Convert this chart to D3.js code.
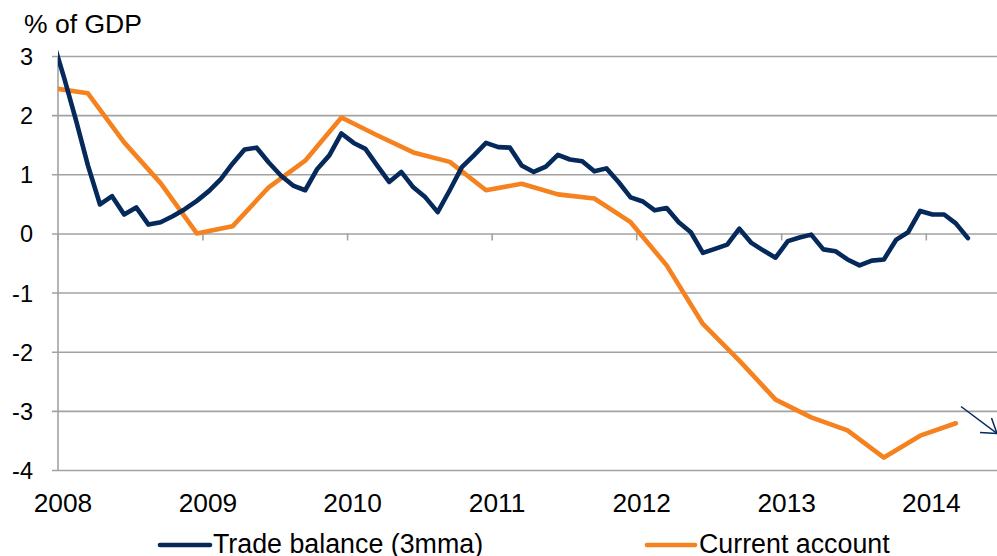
<!DOCTYPE html>
<html>
<head>
<meta charset="utf-8">
<script src="https://cdn.jsdelivr.net/npm/d3@7"></script>
<style>
    body { margin: 0; background: #fff; }
    svg { display: block; font-family: "Liberation Sans", Arial, sans-serif; }
</style>
</head>
<body>
<svg id="chart" width="997" height="556"></svg>
<script>
// monthly trade balance (3mma), Dec 2007 .. Apr 2014, % of GDP
var tradeStart = new Date(2007, 11, 1);
var tradeBalance = [
    3.32,
    2.63, 1.91, 1.15, 0.49, 0.63, 0.32, 0.44, 0.15, 0.19, 0.29, 0.41, 0.55,
    0.72, 0.92, 1.18, 1.42, 1.45, 1.20, 0.98, 0.81, 0.73, 1.09, 1.32, 1.69,
    1.53, 1.43, 1.15, 0.87, 1.04, 0.78, 0.61, 0.36, 0.73, 1.12, 1.32, 1.53,
    1.46, 1.45, 1.15, 1.04, 1.13, 1.33, 1.25, 1.22, 1.05, 1.10, 0.87, 0.61,
    0.54, 0.39, 0.43, 0.19, 0.02, -0.33, -0.26, -0.19, 0.08, -0.16, -0.29, -0.41,
    -0.13, -0.07, -0.02, -0.27, -0.30, -0.44, -0.54, -0.46, -0.44, -0.11, 0.02, 0.38,
    0.32, 0.32, 0.17, -0.08
];

// quarterly current account, Dec 2007 .. Mar 2014
var accountStart = new Date(2007, 11, 1);
var currentAccount = [
    2.46, 2.37, 1.54, 0.85, 0.00, 0.12, 0.78, 1.23, 1.96, 1.66, 1.37, 1.21, 0.73,
    0.84, 0.66, 0.59, 0.19, -0.54, -1.53, -2.15, -2.81, -3.11, -3.33, -3.79, -3.42, -3.21
];

var yearTicks = [2008, 2009, 2010, 2011, 2012, 2013, 2014];
var valueTicks = [3, 2, 1, 0, -1, -2, -3, -4];
var seriesNames = ["Trade balance (3mma)", "Current account"];
var seriesColors = ["#04295a", "#f5821f"];

// plot box (note: "top" is taken by window)
var plotL = 58, plotR = 998, plotT = 56, plotB = 470;

// points sit in the middle of their month
function midMonth(start, i) {
    var a = d3.timeMonth.offset(start, i);
    var b = d3.timeMonth.offset(start, i + 1);
    return new Date((+a + +b) / 2);
}

var tradeData = tradeBalance.map(function (v, i) {
    return {date: midMonth(tradeStart, i), value: v};
});
var accountData = currentAccount.map(function (v, i) {
    return {date: midMonth(accountStart, i * 3), value: v};
});

var x = d3.scaleTime()
    .domain([new Date(2008, 0, 1), new Date(2014, 6, 1)])
    .range([plotL, plotR]);

var y = d3.scaleLinear()
    .domain([-4, 3])
    .range([plotB, plotT]);

var svg = d3.select("#chart");

svg.append("defs").append("clipPath")
    .attr("id", "plot-clip")
    .append("rect")
    .attr("x", plotL)
    .attr("y", 0)
    .attr("width", plotR - plotL)
    .attr("height", 556);

var gridColor = "#a2a2a2";

// horizontal gridlines with small ticks to the left
var yAxis = d3.axisLeft(y)
    .tickValues(valueTicks)
    .tickSize(0)
    .tickFormat(function (d) { return d < 0 ? "-" + Math.abs(d) : d; });

var gy = svg.append("g")
    .attr("transform", "translate(" + (plotL - 6) + ",0)")
    .call(yAxis);
gy.select(".domain").remove();
gy.selectAll(".tick line")
    .attr("x1", 0)
    .attr("x2", plotR - plotL + 6)
    .attr("stroke", gridColor)
    .attr("stroke-width", 1.6);
gy.selectAll(".tick text")
    .attr("x", -19)
    .attr("dy", "0.36em")
    .attr("fill", "#000")
    .attr("font-family", null)
    .attr("font-size", null)
    .style("font-size", "23.5px");

// vertical axis line
svg.append("line")
    .attr("x1", plotL).attr("x2", plotL)
    .attr("y1", plotT).attr("y2", plotB)
    .attr("stroke", gridColor)
    .attr("stroke-width", 1.6);

// year tick marks hang off the zero line
svg.append("g")
    .selectAll("line")
    .data(yearTicks)
    .enter()
    .append("line")
    .attr("x1", function (d) { return x(new Date(d, 0, 1)); })
    .attr("x2", function (d) { return x(new Date(d, 0, 1)); })
    .attr("y1", y(0))
    .attr("y2", y(0) + 7)
    .attr("stroke", gridColor)
    .attr("stroke-width", 1.6);

svg.append("g")
    .selectAll("text")
    .data(yearTicks)
    .enter()
    .append("text")
    .attr("x", function (d) { return x(new Date(d, 0, 1)) + 5; })
    .attr("y", 512)
    .attr("text-anchor", "middle")
    .style("font-size", "26.3px")
    .text(function (d) { return d; });

svg.append("text")
    .attr("x", 24)
    .attr("y", 33)
    .style("font-size", "26.5px")
    .text("% of GDP");

var line = d3.line()
    .x(function (d) { return x(d.date); })
    .y(function (d) { return y(d.value); });

var plot = svg.append("g").attr("clip-path", "url(#plot-clip)");

plot.append("path")
    .datum(accountData)
    .attr("fill", "none")
    .attr("stroke", seriesColors[1])
    .attr("stroke-width", 4.6)
    .attr("stroke-linejoin", "round")
    .attr("stroke-linecap", "round")
    .attr("d", line);

plot.append("path")
    .datum(tradeData)
    .attr("fill", "none")
    .attr("stroke", seriesColors[0])
    .attr("stroke-width", 4.6)
    .attr("stroke-linejoin", "round")
    .attr("stroke-linecap", "round")
    .attr("d", line);

// hand-drawn style arrow in the bottom right corner
var arrow = svg.append("g")
    .attr("stroke", seriesColors[0])
    .attr("stroke-width", 1.5)
    .attr("fill", "none");
arrow.append("path").attr("d", "M961,406.5 L997,433.5");
arrow.append("path").attr("d", "M980,432.5 L997,433.5 L991.5,418");

// legend
var legendItems = [
    {name: seriesNames[0], color: seriesColors[0], x1: 160, x2: 210, tx: 213},
    {name: seriesNames[1], color: seriesColors[1], x1: 647, x2: 695, tx: 699}
];

var lg = svg.append("g")
    .selectAll("g")
    .data(legendItems)
    .enter()
    .append("g");

lg.append("line")
    .attr("x1", function (d) { return d.x1; })
    .attr("x2", function (d) { return d.x2; })
    .attr("y1", 545)
    .attr("y2", 545)
    .attr("stroke", function (d) { return d.color; })
    .attr("stroke-width", 4.6)
    .attr("stroke-linecap", "round");

lg.append("text")
    .attr("x", function (d) { return d.tx; })
    .attr("y", 553)
    .style("font-size", "26.8px")
    .text(function (d) { return d.name; });
</script>
</body>
</html>
